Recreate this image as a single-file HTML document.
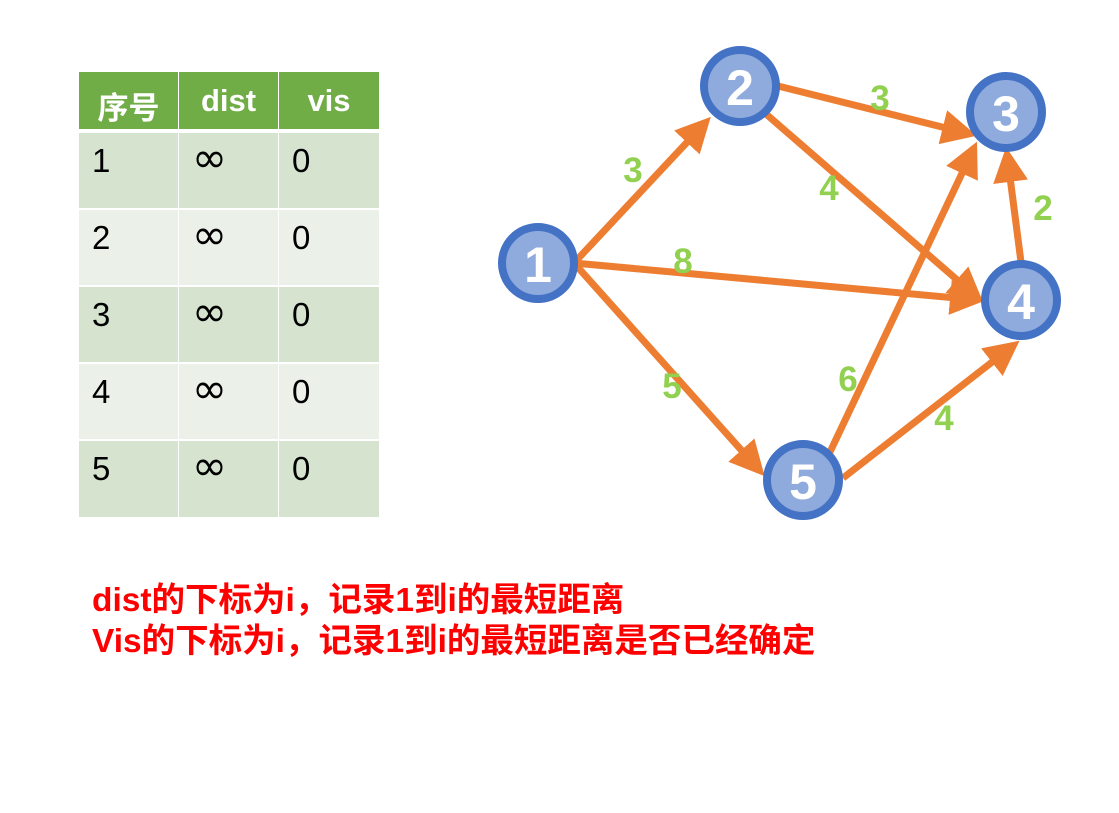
<!DOCTYPE html>
<html><head><meta charset="utf-8"><style>
body{margin:0;width:1119px;height:813px;background:#fff;position:relative;overflow:hidden;font-family:"Liberation Sans","Noto Sans CJK SC",sans-serif}
.c{position:absolute;box-sizing:border-box;font-size:33px;padding:9px 0 0 13px;color:#000}
.c.i{font-size:42px;padding:0 0 0 13px;font-family:"DejaVu Sans",sans-serif}
.h{background:#70ad47;color:#fff;font-weight:bold;text-align:center;padding:11px 0 0;font-size:31px}
.o{background:#d5e3cf}.e{background:#ebf1e9}
.t{position:absolute;left:92px;color:#f00;font-weight:bold;font-size:33.5px;white-space:nowrap}
</style></head><body>
<div class="c h" style="left:79px;top:72px;width:99px;height:57px">序号</div>
<div class="c h" style="left:179px;top:72px;width:99px;height:57px">dist</div>
<div class="c h" style="left:279px;top:72px;width:100px;height:57px">vis</div>
<div class="c o" style="left:79px;top:133px;width:99px;height:75px">1</div><div class="c o i" style="left:179px;top:133px;width:99px;height:75px">∞</div><div class="c o" style="left:279px;top:133px;width:100px;height:75px">0</div>
<div class="c e" style="left:79px;top:210px;width:99px;height:75px">2</div><div class="c e i" style="left:179px;top:210px;width:99px;height:75px">∞</div><div class="c e" style="left:279px;top:210px;width:100px;height:75px">0</div>
<div class="c o" style="left:79px;top:287px;width:99px;height:75px">3</div><div class="c o i" style="left:179px;top:287px;width:99px;height:75px">∞</div><div class="c o" style="left:279px;top:287px;width:100px;height:75px">0</div>
<div class="c e" style="left:79px;top:364px;width:99px;height:75px">4</div><div class="c e i" style="left:179px;top:364px;width:99px;height:75px">∞</div><div class="c e" style="left:279px;top:364px;width:100px;height:75px">0</div>
<div class="c o" style="left:79px;top:441px;width:99px;height:76px">5</div><div class="c o i" style="left:179px;top:441px;width:99px;height:76px">∞</div><div class="c o" style="left:279px;top:441px;width:100px;height:76px">0</div>
<svg style="position:absolute;left:0;top:0" width="1119" height="813">
<defs><marker id="a" markerWidth="5" markerHeight="5" refX="4" refY="2.5" orient="auto" markerUnits="strokeWidth"><path d="M0,0L5,2.5L0,5z" fill="#ed7d31"/></marker></defs>
<g stroke="#ed7d31" stroke-width="7" marker-end="url(#a)">
<line x1="574" y1="263" x2="706" y2="122"/>
<line x1="778" y1="86" x2="970" y2="134"/>
<line x1="766" y1="114" x2="978" y2="298"/>
<line x1="574" y1="263" x2="978" y2="300"/>
<line x1="574" y1="263" x2="760" y2="471"/>
<line x1="830" y1="452" x2="974" y2="148"/>
<line x1="843" y1="478" x2="1014" y2="345"/>
<line x1="1021" y1="262" x2="1007" y2="154"/>
</g>
<g fill="#8faadc" stroke="#4472c4" stroke-width="8">
<circle cx="538" cy="263" r="36"/><circle cx="740" cy="86" r="36"/><circle cx="1006" cy="112" r="36"/><circle cx="1021" cy="300" r="36"/><circle cx="803" cy="480" r="36"/>
</g>
<g fill="#fff" font-size="50" font-weight="bold" text-anchor="middle" font-family="Liberation Sans">
<text x="538" y="282">1</text><text x="740" y="105">2</text><text x="1006" y="131">3</text><text x="1021" y="319">4</text><text x="803" y="499">5</text>
</g>
<g fill="#92d050" font-size="35" font-weight="bold" text-anchor="middle" font-family="Liberation Sans">
<text x="633" y="182">3</text><text x="880" y="110">3</text><text x="829" y="200">4</text><text x="683" y="273">8</text><text x="1043" y="220">2</text><text x="672" y="398">5</text><text x="848" y="391">6</text><text x="944" y="430">4</text>
</g>
</svg>
<div class="t" style="top:572px">dist的下标为i，记录1到i的最短距离</div>
<div class="t" style="top:613px">Vis的下标为i，记录1到i的最短距离是否已经确定</div>
</body></html>
